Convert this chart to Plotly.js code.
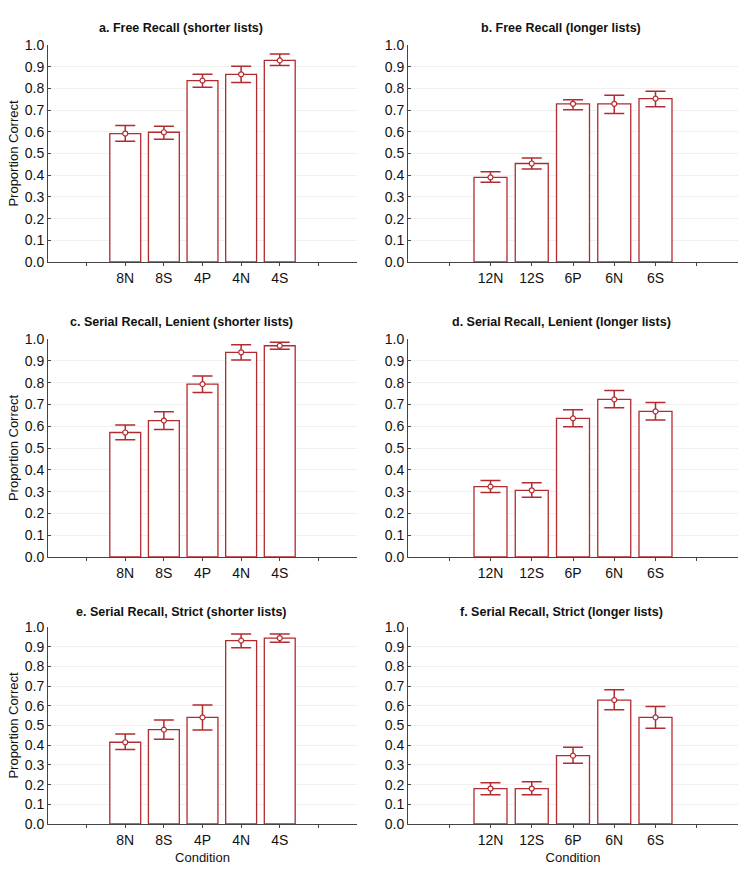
<!DOCTYPE html>
<html>
<head>
<meta charset="utf-8">
<script src="https://cdn.plot.ly/plotly-3.0.1.min.js"></script>
<style>html,body{margin:0;padding:0;background:#fff;}</style>
</head>
<body>
<div id="chart" style="width:750px;height:878px;"></div>
<script>
// ---- data ----
const shortCats = ['8N', '8S', '4P', '4N', '4S'];
const longCats = ['12N', '12S', '6P', '6N', '6S'];

const panelTitles = [
  'a. Free Recall (shorter lists)',
  'b. Free Recall (longer lists)',
  'c. Serial Recall, Lenient (shorter lists)',
  'd. Serial Recall, Lenient (longer lists)',
  'e. Serial Recall, Strict (shorter lists)',
  'f. Serial Recall, Strict (longer lists)'
];

// means
const freeShort = [0.592, 0.598, 0.836, 0.865, 0.929];
const freeLong = [0.390, 0.454, 0.729, 0.729, 0.753];
const lenientShort = [0.571, 0.626, 0.793, 0.939, 0.969];
const lenientLong = [0.323, 0.306, 0.636, 0.723, 0.668];
const strictShort = [0.415, 0.479, 0.541, 0.931, 0.944];
const strictLong = [0.180, 0.180, 0.347, 0.629, 0.541];

// upper / lower confidence bounds
const freeShortHi = [0.629, 0.626, 0.865, 0.902, 0.959];
const freeShortLo = [0.557, 0.566, 0.805, 0.827, 0.905];
const freeLongHi = [0.416, 0.479, 0.748, 0.768, 0.787];
const freeLongLo = [0.367, 0.428, 0.702, 0.684, 0.715];
const lenientShortHi = [0.606, 0.666, 0.830, 0.974, 0.985];
const lenientShortLo = [0.538, 0.585, 0.755, 0.904, 0.953];
const lenientLongHi = [0.351, 0.341, 0.675, 0.764, 0.709];
const lenientLongLo = [0.296, 0.274, 0.597, 0.685, 0.629];
const strictShortHi = [0.457, 0.528, 0.604, 0.965, 0.965];
const strictShortLo = [0.378, 0.430, 0.477, 0.895, 0.922];
const strictLongHi = [0.209, 0.214, 0.390, 0.681, 0.597];
const strictLongLo = [0.148, 0.148, 0.309, 0.580, 0.486];

const yTickVals = [0, 0.1, 0.2, 0.3, 0.4, 0.5, 0.6, 0.7, 0.8, 0.9, 1.0];
const yTickText = ['0.0', '0.1', '0.2', '0.3', '0.4', '0.5', '0.6', '0.7', '0.8', '0.9', '1.0'];

// ---- styling ----
const RED = '#b22b2e';
const FONT = 'Arial, "Liberation Sans", sans-serif';
const W = 750, H = 878;

const panels = [
  {cats: shortCats, m: freeShort, hi: freeShortHi, lo: freeShortLo},
  {cats: longCats, m: freeLong, hi: freeLongHi, lo: freeLongLo},
  {cats: shortCats, m: lenientShort, hi: lenientShortHi, lo: lenientShortLo},
  {cats: longCats, m: lenientLong, hi: lenientLongHi, lo: lenientLongLo},
  {cats: shortCats, m: strictShort, hi: strictShortHi, lo: strictShortLo},
  {cats: longCats, m: strictLong, hi: strictLongHi, lo: strictLongLo}
];

// pixel boxes of plot areas
const colX = [[48, 357], [408, 738]];
const rowY = [[45, 262], [339, 557], [627, 824]];
const titleX = [181, 561];
const titleY = [28, 322, 612];

const data = [];
const layout = {
  width: W, height: H,
  margin: {l: 0, r: 0, t: 0, b: 0},
  paper_bgcolor: '#fff', plot_bgcolor: '#fff',
  showlegend: false,
  font: {family: FONT, size: 13, color: '#111'},
  annotations: []
};

panels.forEach((p, i) => {
  const col = i % 2, row = Math.floor(i / 2);
  const n = i + 1;
  const xa = 'x' + (n === 1 ? '' : n), ya = 'y' + (n === 1 ? '' : n);
  const errPlus = p.hi.map((v, k) => v - p.m[k]);
  const errMinus = p.m.map((v, k) => v - p.lo[k]);
  data.push({
    type: 'bar', x: p.cats, y: p.m, xaxis: xa, yaxis: ya,
    width: 0.8,
    marker: {color: '#ffffff', line: {color: RED, width: 1.3}},
    hoverinfo: 'x+y'
  });
  data.push({
    type: 'scatter', mode: 'markers', x: p.cats, y: p.m, xaxis: xa, yaxis: ya,
    marker: {symbol: 'circle', size: 5, color: '#ffffff', line: {color: RED, width: 1.2}},
    error_y: {type: 'data', symmetric: false, array: errPlus, arrayminus: errMinus,
      color: RED, thickness: 1.5, width: 10},
    cliponaxis: false
  });
  const catOrder = [' '].concat(p.cats).concat(['  ']);
  const xKey = 'xaxis' + (n === 1 ? '' : n), yKey = 'yaxis' + (n === 1 ? '' : n);
  const [xl, xr] = colX[col];
  const [yt, yb] = rowY[row];
  layout[xKey] = {
    domain: [xl / W, xr / W], anchor: ya,
    type: 'category', categoryorder: 'array', categoryarray: catOrder,
    range: [-1, 7], fixedrange: true,
    showline: true, linecolor: '#444', linewidth: 1,
    ticks: 'outside', ticklen: 3, tickcolor: '#444',
    showgrid: false, zeroline: false,
    tickfont: {family: FONT, size: 14, color: '#111'},
    title: row === 2 ? {text: 'Condition', font: {family: FONT, size: 13, color: '#111'}, standoff: 6} : {text: ''}
  };
  layout[yKey] = {
    domain: [1 - yb / H, 1 - yt / H], anchor: xa,
    range: [0, 1.0], fixedrange: true,
    tickvals: yTickVals, ticktext: yTickText,
    showline: true, linecolor: '#444', linewidth: 1,
    ticks: 'inside', ticklen: 3, tickcolor: '#444',
    showgrid: true, gridcolor: '#efefef', gridwidth: 1,
    zeroline: false,
    tickfont: {family: FONT, size: 14, color: '#111'},
    title: col === 0 ? {text: 'Proportion Correct', font: {family: FONT, size: 13, color: '#111'}, standoff: 3} : {text: ''}
  };
  layout.annotations.push({
    text: '<b>' + panelTitles[i] + '</b>', xref: 'paper', yref: 'paper',
    x: titleX[col] / W, y: 1 - titleY[row] / H, xanchor: 'center', yanchor: 'middle',
    showarrow: false, font: {family: FONT, size: 12.5, color: '#111'}
  });
});

Plotly.newPlot('chart', data, layout, {displayModeBar: false, staticPlot: true});
</script>
</body>
</html>
